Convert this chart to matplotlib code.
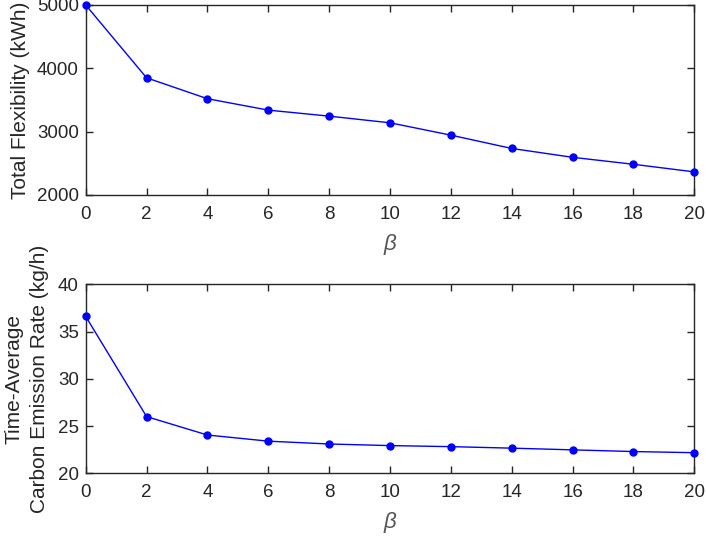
import numpy as np
import matplotlib.pyplot as plt

plt.rcParams['font.family'] = ['Liberation Sans', 'DejaVu Sans']
plt.rcParams['mathtext.fontset'] = 'custom'
plt.rcParams['mathtext.it'] = 'Liberation Sans:italic'

# значения
beta = [0, 2, 4, 6, 8, 10, 12, 14, 16, 18, 20]
flexibility = [5000, 3850, 3520, 3340, 3245, 3140, 2945, 2735, 2595, 2485, 2365]
emission = [36.6, 26.0, 24.05, 23.4, 23.1, 22.93, 22.82, 22.66, 22.48, 22.3, 22.18]

dark = '#262626'


def style_axes(ax, ylim, yticks):
    ax.set_xlim(0, 20)
    ax.set_xticks(beta)
    ax.set_ylim(*ylim)
    ax.set_yticks(yticks)
    ax.tick_params(direction='in', top=True, right=True, length=5, width=1,
                   colors=dark, labelsize=13.5)
    ax.tick_params(axis='x', pad=8)
    ax.tick_params(axis='y', pad=5)
    for s in ax.spines.values():
        s.set_color(dark)
        s.set_linewidth(1)
    ax.set_xlabel(r'$\it{\beta}$', fontsize=16, color='#555555', labelpad=6.5)


fig = plt.figure(figsize=(7.06, 5.36), dpi=100)
ax1 = fig.add_axes([0.1214, 0.6362, 0.862, 0.3545])
ax2 = fig.add_axes([0.1214, 0.117, 0.862, 0.3526])

ax1.plot(beta, flexibility, '-o', color='blue', lw=1, ms=5, clip_on=False, zorder=3)
style_axes(ax1, (2000, 5000), [2000, 3000, 4000, 5000])
ax1.set_ylabel('Total Flexibility (kWh)', fontsize=15, color=dark, labelpad=5)

ax2.plot(beta, emission, '-o', color='blue', lw=1, ms=5, clip_on=False, zorder=3)
style_axes(ax2, (20, 40), [20, 25, 30, 35, 40])
ax2.set_ylabel('Time-Average\nCarbon Emission Rate (kg/h)', fontsize=15,
               color=dark, labelpad=6, linespacing=1.45)

fig.savefig('out.png', dpi=100)
